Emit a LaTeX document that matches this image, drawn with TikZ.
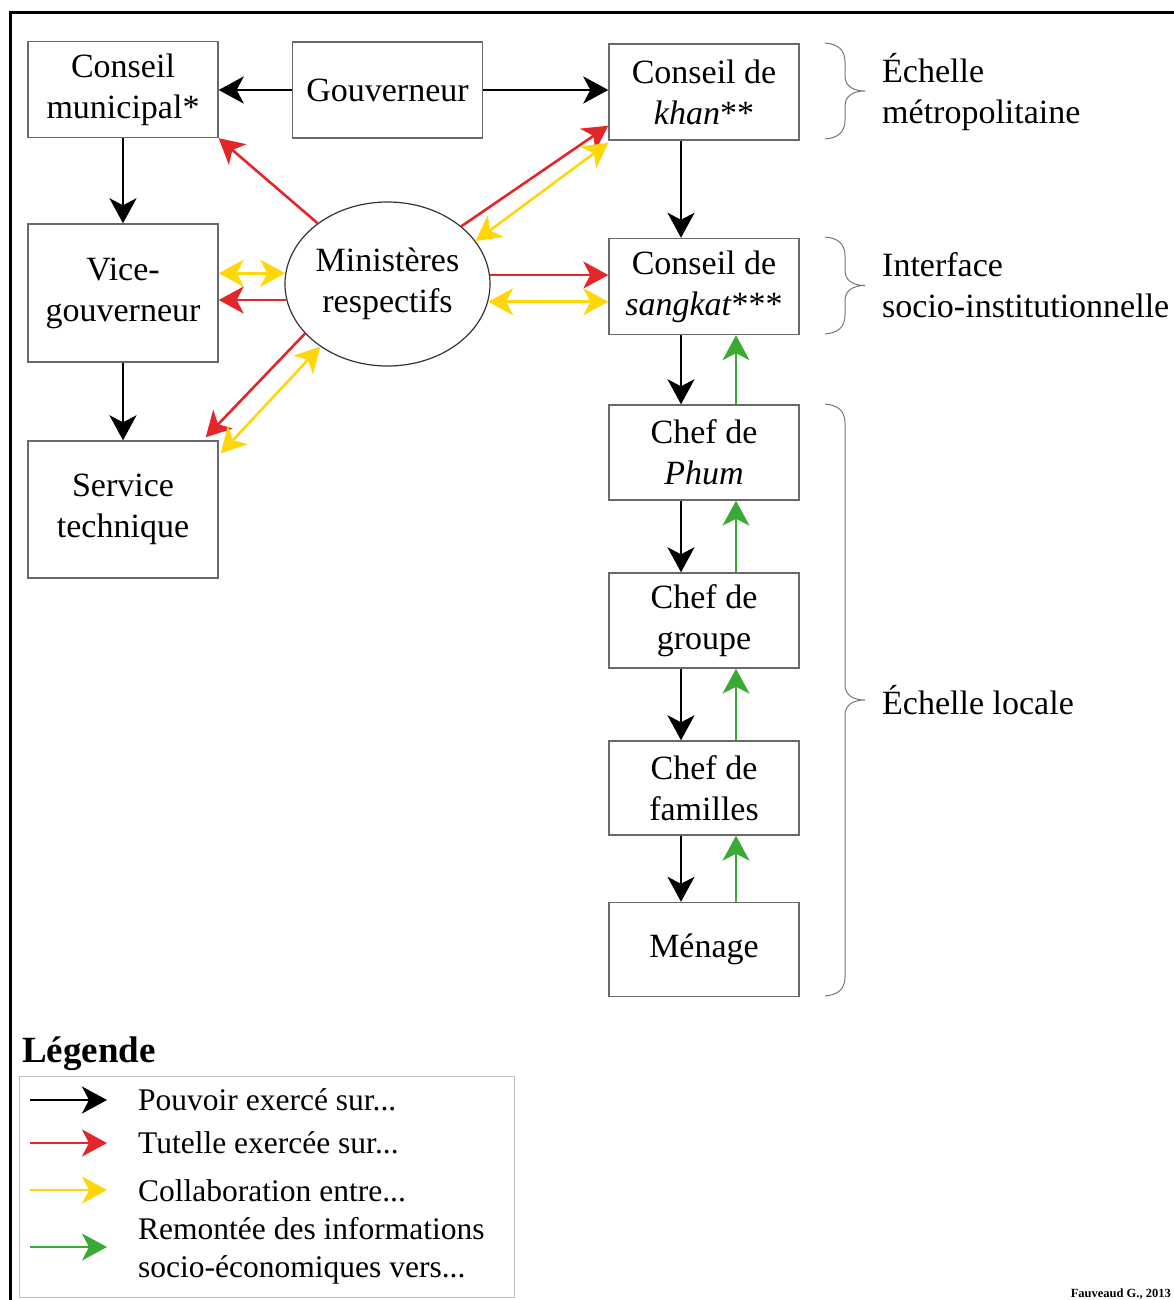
\documentclass[tikz,border=0pt]{standalone}
\usepackage{fontspec}
\setmainfont{Liberation Serif}
\usetikzlibrary{arrows.meta,calc,shapes.geometric}
\definecolor{tutred}{RGB}{227,38,42}
\definecolor{colyellow}{RGB}{255,214,10}
\definecolor{infogreen}{RGB}{58,170,53}
\definecolor{boxgray}{RGB}{105,105,105}
\definecolor{bracegray}{RGB}{120,120,120}

% right-pointing curly brace: x of the ends, top y, bottom y
\newcommand{\sidebrace}[3]{%
  \pgfmathsetmacro\bm{(#2+#3)/2}%
  \draw[bracegray, line width=1pt]
    (#1,#2) .. controls (#1+13,#2+1) and (#1+20,#2+7) .. (#1+20,#2+19)
    -- (#1+20,\bm-15) .. controls (#1+20,\bm-5) and (#1+28,\bm) .. (#1+40,\bm)
    .. controls (#1+28,\bm) and (#1+20,\bm+5) .. (#1+20,\bm+15)
    -- (#1+20,#3-19) .. controls (#1+20,#3-7) and (#1+13,#3-1) .. (#1,#3);}

\begin{document}
\begin{tikzpicture}[x=1pt,y=-1pt,
  >={Stealth[length=25pt,width=27pt,inset=7pt]},
  box/.style={draw=boxgray, line width=1.4pt, minimum width=190pt,
    minimum height=96pt, inner sep=0pt, align=center,
    font=\fontsize{34}{41}\selectfont},
  lbl/.style={anchor=west, inner sep=0pt, align=left,
    font=\fontsize{34}{41}\selectfont},
  legtext/.style={anchor=west, inner sep=0pt, align=left,
    font=\fontsize{31.5}{38}\selectfont},
  power/.style={draw=black, line width=2.8pt, ->},
  tutelle/.style={draw=tutred, line width=2.6pt, ->},
  collab/.style={draw=colyellow, line width=2.6pt, <->},
  collabone/.style={draw=colyellow, line width=2.6pt, ->},
  remontee/.style={draw=infogreen, line width=2.2pt, ->}]

\useasboundingbox (0,0) rectangle (1173,1300);

% outer frame
\draw[line width=3pt] (10,1310) -- (10,13) -- (1185,13);

% institutions
\node[box] (cm) at (123,89.5) {Conseil\\municipal*};
\node[box] (gouv) at (387.5,90) {Gouverneur};
\node[box] (khan) at (704,92) {Conseil de\\\textit{khan}**};
\node[box, minimum height=138pt] (vice) at (123,293) {Vice-\\gouverneur};
\node[box, minimum height=137pt] (svc) at (123,509.5) {Service\\technique};
\node[ellipse, draw=black!80, line width=1.2pt, minimum width=205pt,
  minimum height=164pt, inner sep=0pt, align=center,
  font=\fontsize{34}{41}\selectfont] (min) at (387.5,284) {Ministères\\respectifs};
\node[box] (sangkat) at (704,286.5) {Conseil de\\\textit{sangkat}***};
\node[box, minimum height=95pt] (phum) at (704,452.5) {Chef de\\\textit{Phum}};
\node[box, minimum height=95pt] (groupe) at (704,620.5) {Chef de\\groupe};
\node[box, minimum height=94pt] (fam) at (704,788) {Chef de\\familles};
\node[box, minimum height=94pt] (men) at (704,949.5) {Ménage};

% power relations
\draw[power] (gouv.west) -- (gouv.west -| cm.east);
\draw[power] (gouv.east) -- (gouv.east -| khan.west);
\draw[power] (cm.south) -- (vice.north);
\draw[power] (vice.south) -- (svc.north);
\draw[power] ($(khan.south)+(-23,0)$) -- ($(sangkat.north)+(-23,0)$);
\draw[power] ($(sangkat.south)+(-23,0)$) -- ($(phum.north)+(-23,0)$);
\draw[power] ($(phum.south)+(-23,0)$) -- ($(groupe.north)+(-23,0)$);
\draw[power] ($(groupe.south)+(-23,0)$) -- ($(fam.north)+(-23,0)$);
\draw[power] ($(fam.south)+(-23,0)$) -- ($(men.north)+(-23,0)$);

% information flowing upward
\draw[remontee] ($(phum.north)+(32,0)$) -- ($(sangkat.south)+(32,0)$);
\draw[remontee] ($(groupe.north)+(32,0)$) -- ($(phum.south)+(32,0)$);
\draw[remontee] ($(fam.north)+(32,0)$) -- ($(groupe.south)+(32,0)$);
\draw[remontee] ($(men.north)+(32,0)$) -- ($(fam.south)+(32,0)$);

% supervision and collaboration of the ministries
\draw[tutelle] (min.139) -- (cm.south east);
\draw[tutelle] (min.38) -- ($(khan.south west)+(0,-15)$);
\draw[collab] (min.26) -- ($(khan.south west)+(0,2)$);
\draw[tutelle] (min.5.6) -- (min.5.6 -| sangkat.west);
\draw[collab] (min.350.4) -- (min.350.4 -| sangkat.west);
\draw[collab] (min.174.4) -- (min.174.4 -| vice.east);
\draw[tutelle] (min.189) -- (min.189 -| vice.east);
\draw[tutelle] (min.211.7) -- ($(svc.north east)+(-13,-3)$);
\draw[collab] (min.223.5) -- ($(svc.north east)+(2,13)$);

% scales
\sidebrace{825}{43}{139}
\sidebrace{825}{237}{334}
\sidebrace{825}{404}{996}
\node[lbl] (echmetro) at (882,92) {Échelle\\métropolitaine};
\node[lbl] (iface) at (882,285.5) {Interface\\socio-institutionnelle};
\node[lbl] (echloc) at (882,700) {Échelle locale};

% legend
\node[anchor=west, inner sep=0pt, font=\fontsize{37}{40}\selectfont\bfseries]
  (legtitle) at (22,1054) {Légende};
\node[draw=black!25, line width=1.2pt, minimum width=495pt, minimum height=221pt,
  inner sep=0pt, anchor=north west] (legbox) at (19,1076) {};
\coordinate (la1) at (30,1100);  \coordinate (lb1) at (107,1100);
\coordinate (la2) at (30,1143);  \coordinate (lb2) at (107,1143);
\coordinate (la3) at (30,1190);  \coordinate (lb3) at (107,1190);
\coordinate (la4) at (30,1247);  \coordinate (lb4) at (107,1247);
\draw[power] (la1) -- (lb1);
\draw[tutelle] (la2) -- (lb2);
\draw[collabone] (la3) -- (lb3);
\draw[remontee] (la4) -- (lb4);
\node[legtext] (lt1) at (138,1100) {Pouvoir exercé sur...};
\node[legtext] (lt2) at (138,1143) {Tutelle exercée sur...};
\node[legtext] (lt3) at (138,1191) {Collaboration entre...};
\node[legtext] (lt4) at (138,1251) {Remontée des informations\\socio-économiques vers...};

% source
\node[anchor=east, inner sep=0pt, font=\fontsize{12.5}{13}\selectfont\bfseries]
  (source) at (1171,1294) {Fauveaud G., 2013};
\end{tikzpicture}
\end{document}
